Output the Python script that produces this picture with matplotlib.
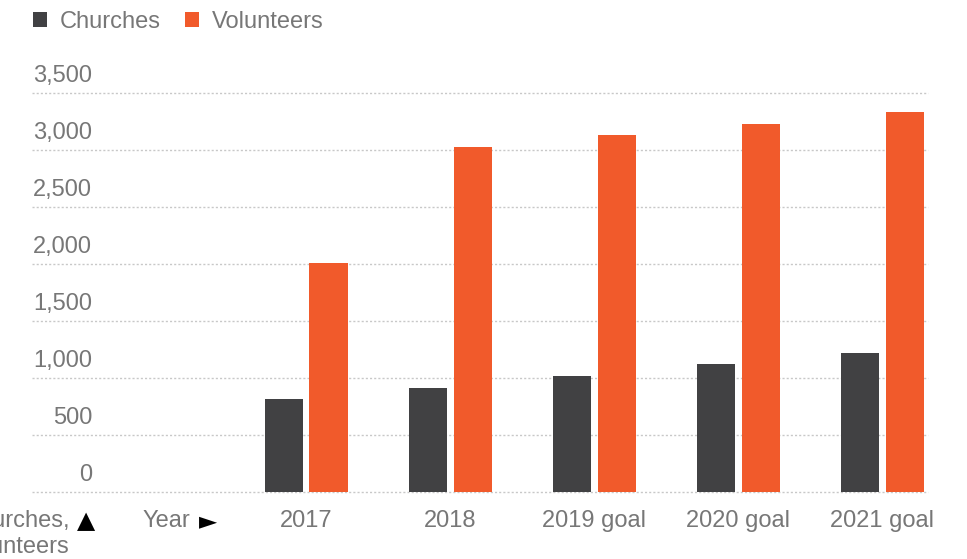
import matplotlib
matplotlib.use("Agg")
import matplotlib.pyplot as plt
import numpy as np

plt.rcParams['font.family'] = ['Liberation Sans', 'DejaVu Sans']

years = ["2017", "2018", "2019 goal", "2020 goal", "2021 goal"]
churches = [815, 915, 1020, 1120, 1220]
volunteers = [2010, 3025, 3130, 3230, 3335]
yticks = [0, 500, 1000, 1500, 2000, 2500, 3000, 3500]
ytick_labels = ["0", "500", "1,000", "1,500", "2,000", "2,500", "3,000", "3,500"]

W, H = 967, 559
fig = plt.figure(figsize=(W / 100, H / 100), dpi=100)
ax = fig.add_axes([32 / W, 1 - 492 / H, (928 - 32) / W, (492 - 93) / H])

dark = "#414143"
orange = "#F15A2B"
grey = "#777777"
fs = 17

x = np.arange(len(years))
bw = 0.264
ax.bar(x - 0.156, churches, width=bw, color=dark, label="Churches", zorder=3)
ax.bar(x + 0.156, volunteers, width=bw, color=orange, label="Volunteers", zorder=3)

ax.set_xlim(-1.903, 4.319)
ax.set_ylim(0, 3500)
for s in ax.spines.values():
    s.set_visible(False)
ax.set_yticks([])
ax.set_xticks(x)
ax.set_xticklabels(years, fontsize=fs, color=grey)
ax.tick_params(axis='x', length=0, pad=13)

for v, lab in zip(yticks, ytick_labels):
    ax.axhline(v, color="#c8c8c8", lw=1, ls=(0, (1.5, 1.5)), zorder=1, clip_on=False)
    ax.annotate(lab, xy=(60 / 896, v), xycoords=('axes fraction', 'data'),
                xytext=(0, 6), textcoords='offset pixels',
                ha='right', va='bottom', fontsize=fs, color=grey)

# axis header labels
base_y = 1 - 521 / H
fig.text(190 / W, base_y, "Year", ha='right', va='center', fontsize=fs, color=grey)
fig.text(199 / W, base_y, "►", ha='left', va='center', fontsize=fs, color="black",
         family=['DejaVu Sans'])
fig.text(-37 / W, base_y, "Churches,", ha='left', va='center', fontsize=fs, color=grey)
fig.text(77 / W, base_y, "▲", ha='left', va='center', fontsize=fs, color="black",
         family=['DejaVu Sans'])
fig.text(-42 / W, 1 - 547 / H, "Volunteers", ha='left', va='center', fontsize=fs, color=grey)

leg = ax.legend(loc='upper left', bbox_to_anchor=(21 / W, 1 + 1 / H), bbox_transform=fig.transFigure,
                ncol=2, frameon=False, fontsize=fs, handlelength=0.6, handleheight=0.6,
                handletextpad=0.55, columnspacing=1.0, borderpad=0)
for t in leg.get_texts():
    t.set_color(grey)

fig.savefig("out.png", dpi=100)
